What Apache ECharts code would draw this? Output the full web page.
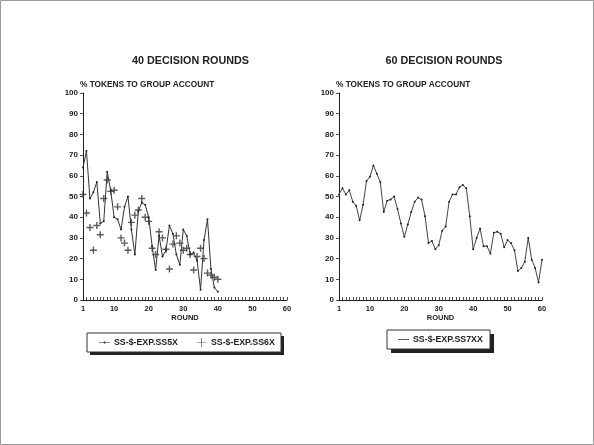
<!DOCTYPE html>
<html>
<head>
<meta charset="utf-8">
<script src="https://cdn.jsdelivr.net/npm/echarts@6/dist/echarts.min.js"></script>
<style>
  html, body { margin: 0; padding: 0; background: #fff; }
  #chart { width: 594px; height: 445px; }
</style>
</head>
<body>
<div id="chart"></div>
<script>
// Rounds 1..60 on the horizontal axis
const rounds = Array.from({ length: 60 }, (_, i) => String(i + 1));
const xTickLabels = ['1', '10', '20', '30', '40', '50', '60'];
const yTickLabels = [0, 10, 20, 30, 40, 50, 60, 70, 80, 90, 100];

// % tokens to group account, 40-round sessions
const ss5x = [64, 72, 49, 52, 57, 37, 38, 62, 53, 40,
              39, 34, 45, 50, 34, 22, 43, 47, 46, 40,
              26, 14.5, 31, 21, 24, 36, 32, 22, 17, 34,
              31, 22, 23, 19, 5, 29, 39, 15, 6, 4];
const ss6x = [51, 42, 35, 24, 36, 31.5, 49, 58, 52.5, 53,
              45, 30, 27.5, 24, 37.5, 41, 43.5, 49, 40, 38,
              25, 22, 33, 30, 24.5, 15, 27, 31, 27.5, 24,
              25, 22, 14.5, 21, 25, 20, 13, 12, 11, 10];

// % tokens to group account, 60-round session
const ss7xx = [51, 54, 51, 53, 47.5, 45.5, 38.5, 46, 57.5, 59.5,
               65, 61, 57, 42.5, 48, 48.5, 50, 44, 37, 30.5,
               36.5, 42.5, 47.5, 49.5, 48.5, 40.5, 27.5, 28.5, 24.5, 26.5,
               33.5, 35.5, 47.5, 51, 51, 54.5, 55.5, 54, 40.5, 24.5,
               30, 34.5, 26, 26, 22.5, 32.5, 33, 32, 25.5, 29,
               27.5, 24, 14, 15.5, 18.5, 30, 19.5, 15.5, 8.5, 19.5];

const panelTitles = ['40 DECISION ROUNDS', '60 DECISION ROUNDS'];
const yName = '% TOKENS TO GROUP ACCOUNT';
const xName = 'ROUND';
const names = ['SS-$-EXP.SS5X', 'SS-$-EXP.SS6X', 'SS-$-EXP.SS7XX'];

const FONT = 'Liberation Sans, Arial, sans-serif';
const INK = '#222';
const PLUS = 'path://M4,0H6V4H10V6H6V10H4V6H0V4H4Z';
// legend keys: thin line with a small dot, a plain thin line, a thin plus
const KEY_DOT_LINE = 'path://M0,4.6H12V5.4H0Z M5.2,4H6.8V6H5.2Z';
const KEY_LINE = 'path://M0,4.6H12V5.4H0Z';
const KEY_PLUS = 'path://M4.6,0H5.4V4.6H10V5.4H5.4V10H4.6V5.4H0V4.6H4.6Z';

function xAxis(gridIndex) {
  return {
    type: 'category', gridIndex, data: rounds, boundaryGap: false,
    axisLine: { lineStyle: { color: INK, width: 1 } },
    axisTick: { show: true, inside: true, length: 3, interval: 0, lineStyle: { color: INK, width: 0.8 } },
    axisLabel: {
      interval: (idx, val) => xTickLabels.includes(val),
      color: INK, fontFamily: FONT, fontSize: 7.5, fontWeight: 'bold', margin: 5
    },
    splitLine: { show: false },
    name: xName, nameLocation: 'middle', nameGap: 14,
    nameTextStyle: { color: INK, fontFamily: FONT, fontSize: 7.5, fontWeight: 'bold' }
  };
}
function yAxis(gridIndex) {
  return {
    type: 'value', gridIndex, min: 0, max: 100, interval: 10,
    axisLine: { show: true, lineStyle: { color: INK, width: 1 } },
    axisTick: { show: true, length: 3, lineStyle: { color: INK, width: 0.8 } },
    axisLabel: {
      color: INK, fontFamily: FONT, fontSize: 8, fontWeight: 'bold', margin: 5,
      formatter: v => yTickLabels.includes(v) ? String(v) : ''
    },
    splitLine: { show: false },
    name: yName, nameLocation: 'end', nameGap: 4,
    nameTextStyle: { color: INK, fontFamily: FONT, fontSize: 8.3, fontWeight: 'bold', align: 'left', padding: [0, 0, 0, -3] }
  };
}

const chart = echarts.init(document.getElementById('chart'), null, { renderer: 'canvas' });
chart.setOption({
  backgroundColor: '#fff',
  animation: false,
  title: [
    { text: panelTitles[0], left: 185.5, top: 51, textAlign: 'center',
      textStyle: { color: INK, fontFamily: FONT, fontSize: 10.8, fontWeight: 'bold' } },
    { text: panelTitles[1], left: 439, top: 51, textAlign: 'center',
      textStyle: { color: INK, fontFamily: FONT, fontSize: 10.8, fontWeight: 'bold' } }
  ],
  grid: [
    { left: 83, top: 93, width: 204, height: 207 },
    { left: 339, top: 93, width: 203, height: 207 }
  ],
  xAxis: [xAxis(0), xAxis(1)],
  yAxis: [yAxis(0), yAxis(1)],
  graphic: [
    { type: 'rect', z: 0, silent: true, shape: { x: 0.5, y: 0.5, width: 593, height: 444 },
      style: { fill: 'none', stroke: '#999', lineWidth: 1 } },
    { type: 'rect', z: 0, shape: { x: 90, y: 336, width: 194, height: 19 }, style: { fill: '#222' } },
    { type: 'rect', z: 1, shape: { x: 87, y: 333, width: 194, height: 19 },
      style: { fill: '#fff', stroke: '#333', lineWidth: 1 } },
    { type: 'rect', z: 0, shape: { x: 391, y: 334, width: 103, height: 19 }, style: { fill: '#222' } },
    { type: 'rect', z: 1, shape: { x: 387, y: 330, width: 103, height: 19 },
      style: { fill: '#fff', stroke: '#333', lineWidth: 1 } }
  ],
  legend: [
    { z: 10, left: 99, top: 338, itemWidth: 11, itemHeight: 9, itemGap: 19, padding: 0,
      data: [{ name: names[0], icon: KEY_DOT_LINE }, { name: names[1], icon: KEY_PLUS }],
      textStyle: { color: INK, fontFamily: FONT, fontSize: 8.8, fontWeight: 'bold', padding: [0, 0, 0, -1] } },
    { z: 10, left: 398, top: 335, itemWidth: 11, itemHeight: 9, padding: 0,
      data: [{ name: names[2], icon: KEY_LINE }],
      textStyle: { color: INK, fontFamily: FONT, fontSize: 8.8, fontWeight: 'bold', padding: [0, 0, 0, -1] } }
  ],
  series: [
    { name: names[0], type: 'line', xAxisIndex: 0, yAxisIndex: 0, data: ss5x,
      symbol: 'circle', symbolSize: 2, showSymbol: true,
      lineStyle: { color: '#333', width: 1 }, itemStyle: { color: '#222' } },
    { name: names[1], type: 'scatter', xAxisIndex: 0, yAxisIndex: 0, data: ss6x,
      symbol: PLUS, symbolSize: 7, itemStyle: { color: '#333' } },
    { name: names[2], type: 'line', xAxisIndex: 1, yAxisIndex: 1, data: ss7xx,
      symbol: 'circle', symbolSize: 2, showSymbol: true,
      lineStyle: { color: '#444', width: 1 }, itemStyle: { color: '#222' } }
  ]
});
</script>
</body>
</html>
